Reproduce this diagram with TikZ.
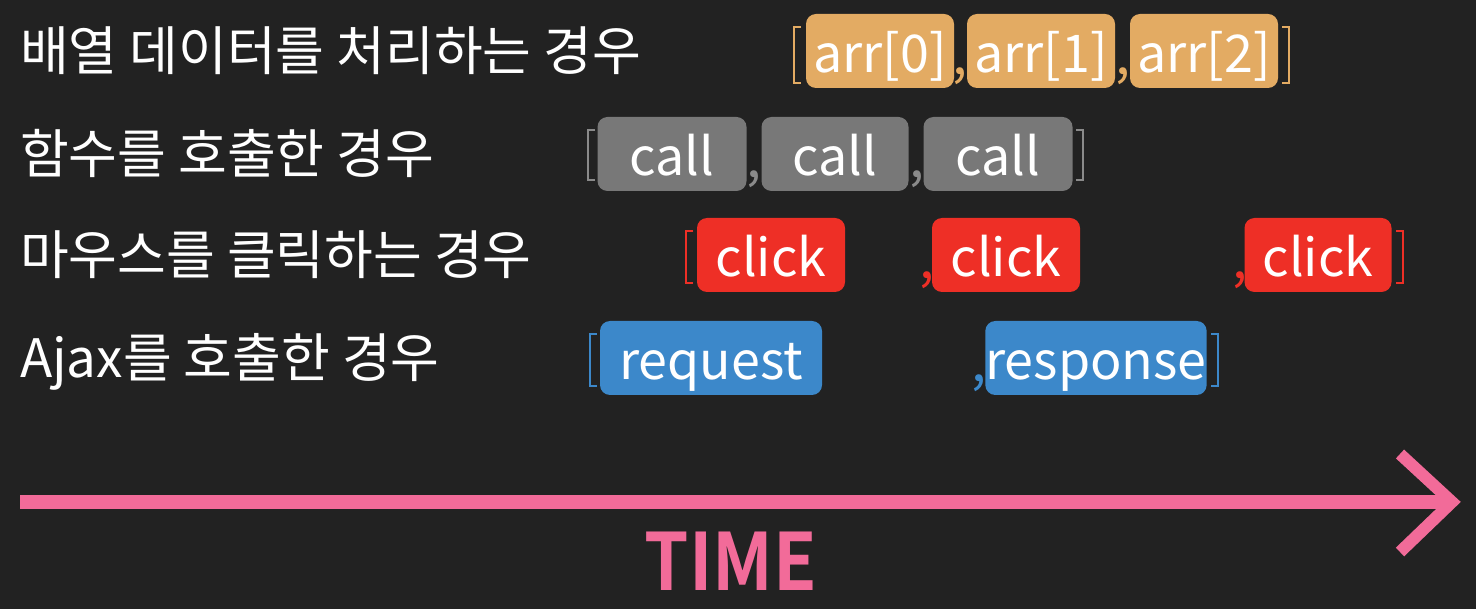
\documentclass[tikz,border=0pt]{standalone}
\usepackage{fontspec}
\setmainfont{Noto Sans CJK KR}
\newfontfamily\labelfont{Noto Sans CJK KR}
\newfontfamily\timefont{Noto Sans CJK KR Bold}
\definecolor{bg}{HTML}{222222}
\definecolor{arrc}{HTML}{E3AB63}
\definecolor{callc}{HTML}{787878}
\definecolor{callbr}{HTML}{8A8A8A}
\definecolor{clickc}{HTML}{EE2F26}
\definecolor{reqc}{HTML}{3C88CA}
\definecolor{pinkc}{HTML}{F26B99}
\begin{document}
\begin{tikzpicture}[x=1pt,y=-1pt,
  rowlabel/.style={anchor=base west, text=white, inner sep=0pt, font=\labelfont\fontsize{53}{53}\selectfont},
  ev/.style={rounded corners=10pt, minimum height=74pt, inner sep=0pt, text=white,
     text height=44pt, text depth=0pt, font=\fontsize{52}{52}\selectfont},
  brk/.style={line width=2.8pt},
  sepcomma/.style={anchor=base, inner sep=0pt, font=\fontsize{54}{54}\selectfont}]
\useasboundingbox[fill=bg] (0,0) rectangle (1476,609);

% row labels
\node[rowlabel] (l1) at (20,71) {배열 데이터를 처리하는 경우};
\node[rowlabel] (l2) at (20,174) {함수를 호출한 경우};
\node[rowlabel] (l3) at (20,275) {마우스를 클릭하는 경우};
\node[rowlabel] (l4) at (20,378) {Ajax를 호출한 경우};

% row 1
\node[ev, fill=arrc, minimum width=148pt] (a0) at (880,51) {arr[0]};
\node[ev, fill=arrc, minimum width=148pt] (a1) at (1041,51) {arr[1]};
\node[ev, fill=arrc, minimum width=148pt] (a2) at (1204,51) {arr[2]};
\draw[brk, arrc] (801,27) -- (794,27) -- (794,83) -- (801,83);
\draw[brk, arrc] (1282,27) -- (1289,27) -- (1289,83) -- (1282,83);
\node[sepcomma, text=arrc] (c1a) at (960,75) {,};
\node[sepcomma, text=arrc] (c1b) at (1123,75) {,};

% row 2
\node[ev, fill=callc, minimum width=149pt] (b0) at (672,154) {call};
\node[ev, fill=callc, minimum width=147pt] (b1) at (835,154) {call};
\node[ev, fill=callc, minimum width=149pt] (b2) at (998,154) {call};
\draw[brk, callbr] (595,130) -- (588,130) -- (588,180) -- (595,180);
\draw[brk, callbr] (1076,130) -- (1083,130) -- (1083,180) -- (1076,180);
\node[sepcomma, text=callbr] (c2a) at (754,178) {,};
\node[sepcomma, text=callbr] (c2b) at (917,178) {,};

% row 3
\node[ev, fill=clickc, minimum width=148pt] (k0) at (771,255) {click};
\node[ev, fill=clickc, minimum width=148pt] (k1) at (1006,255) {click};
\node[ev, fill=clickc, minimum width=147pt] (k2) at (1318,255) {click};
\draw[brk, clickc] (693,231) -- (686,231) -- (686,283) -- (693,283);
\draw[brk, clickc] (1396,231) -- (1403,231) -- (1403,283) -- (1396,283);
\node[sepcomma, text=clickc] (c3a) at (927,279) {,};
\node[sepcomma, text=clickc] (c3b) at (1240,279) {,};

% row 4
\node[ev, fill=reqc, minimum width=222pt] (r0) at (711,358) {request};
\node[ev, fill=reqc, minimum width=221pt] (r1) at (1096,358) {response};
\draw[brk, reqc] (597,334) -- (590,334) -- (590,386) -- (597,386);
\draw[brk, reqc] (1211,334) -- (1218,334) -- (1218,386) -- (1211,386);
\node[sepcomma, text=reqc] (c4a) at (979,382) {,};

% time axis
\coordinate (t0) at (20,502);
\coordinate (t1) at (1452,502);
\coordinate (h1) at (1400,454);
\coordinate (h2) at (1400,552);
\draw[pinkc, line width=13pt] (t0) -- (t1);
\draw[pinkc, line width=12pt, miter limit=10] (h1) -- (t1) -- (h2);
\node[anchor=base, inner sep=0pt, text=pinkc, font=\timefont\fontsize{79}{79}\selectfont] (time) at (731,590) {\scalebox{0.9}[1]{TIME}};
\end{tikzpicture}
\end{document}
